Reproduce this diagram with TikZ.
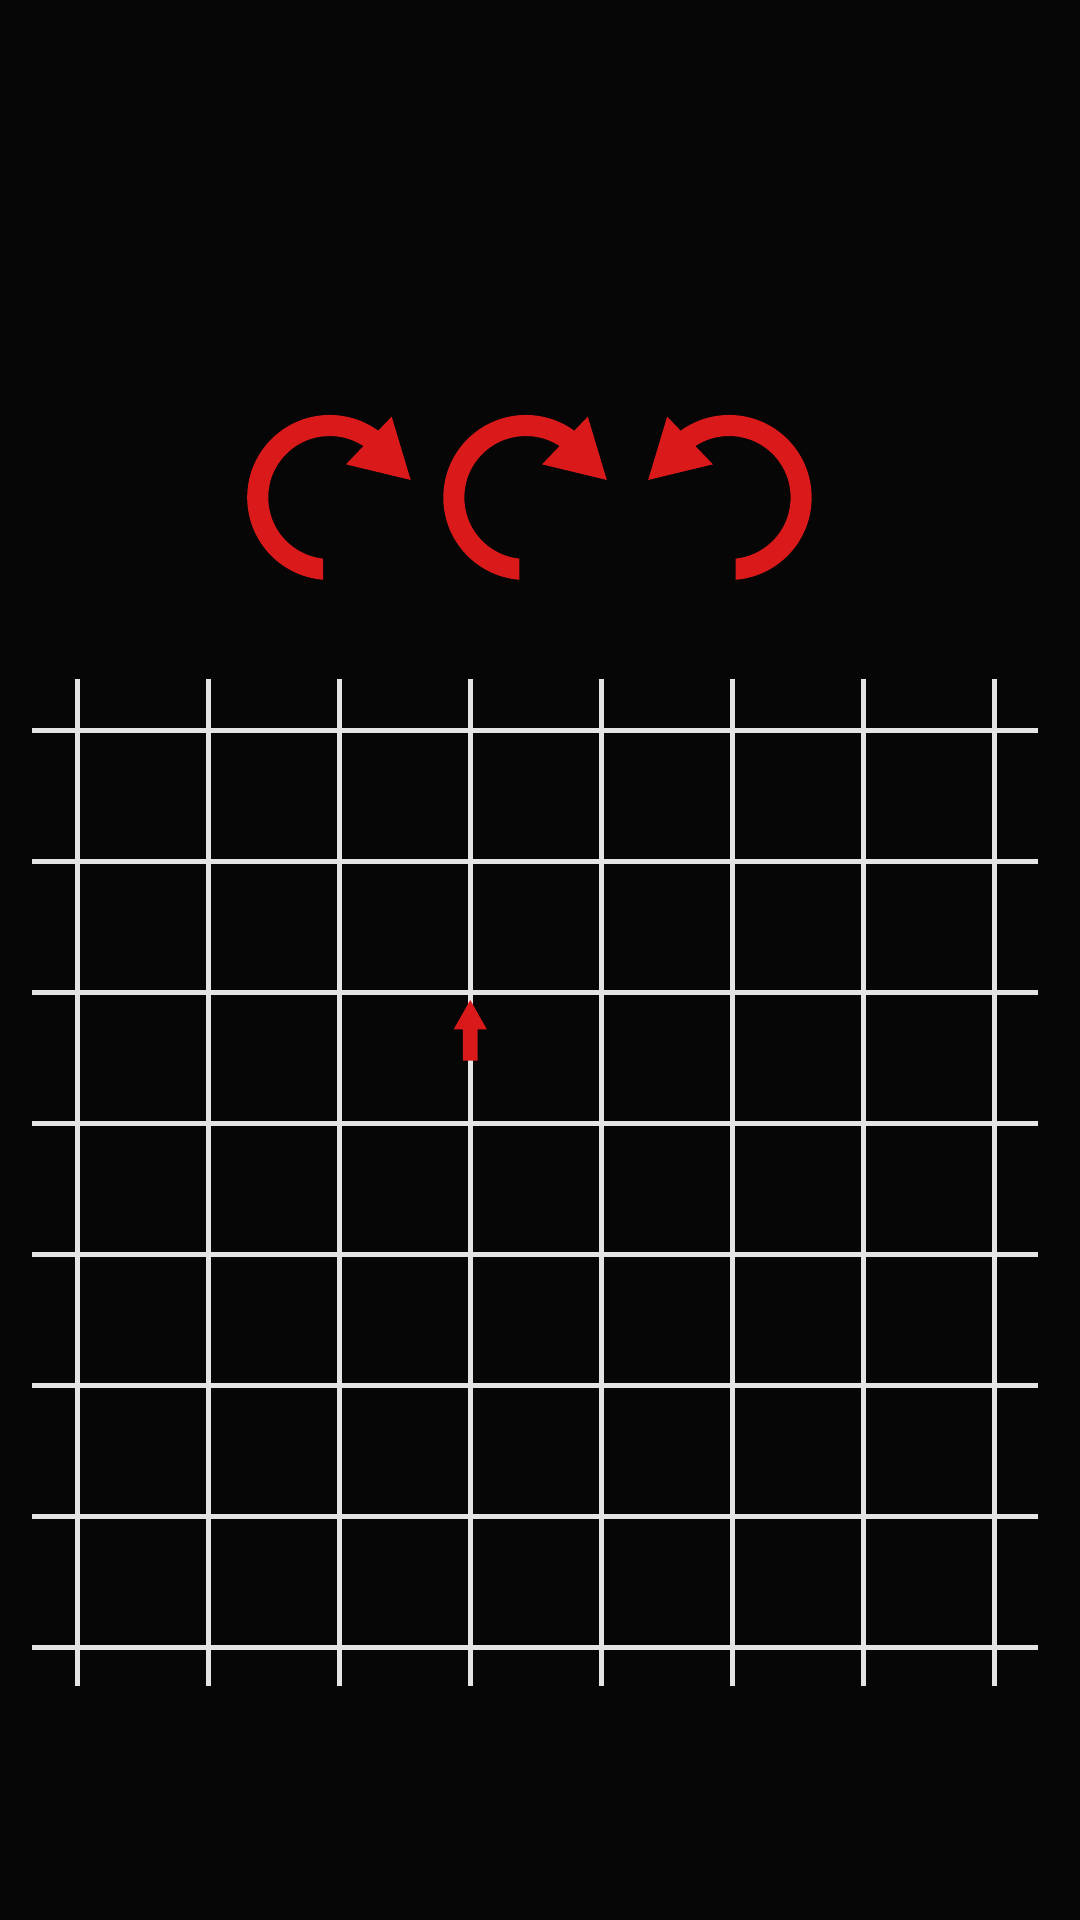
\documentclass[tikz,border=0pt]{standalone}
\usepackage{xcolor}
\usepackage{tikz}

\definecolor{bgblack}{HTML}{060606}
\definecolor{gridgray}{HTML}{E4E4E4}
\definecolor{turnred}{HTML}{DA1A1A}

\begin{document}
\begin{tikzpicture}
    \fill[bgblack] (-0.590,-2.079) rectangle (7.654,12.578);
    \useasboundingbox (-0.590,-2.079) rectangle (7.654,12.578);

    \foreach \i in {0,...,7}
        \draw[gridgray, line width=1.12pt] (\i,-0.290) -- (\i,7.391);
    \foreach \j in {0,...,7}
        \draw[gridgray, line width=1.12pt] (-0.348,\j) -- (7.331,\j);

    % turn arrows
    \foreach \x/\s in {1.927/1, 3.424/1, 4.976/-1} {
        \begin{scope}[shift={(\x,8.780)}, xscale=\s]
            \fill[turnred] (-94.5:0.630) arc[start angle=-94.5, end angle=-312, radius=0.630]
                -- (-312:0.4695) arc[start angle=-312, end angle=-96.1, radius=0.4695] -- cycle;
            \fill[turnred] (0.618,0.134) -- (0.473,0.617) -- (0.124,0.253) -- cycle;
        \end{scope}
    }

    % step arrow
    \fill[turnred] (2.943,4.482) -- (2.943,4.719) -- (2.873,4.719) -- (3,4.944)
        -- (3.127,4.719) -- (3.057,4.719) -- (3.057,4.482) -- cycle;
\end{tikzpicture}
\end{document}
